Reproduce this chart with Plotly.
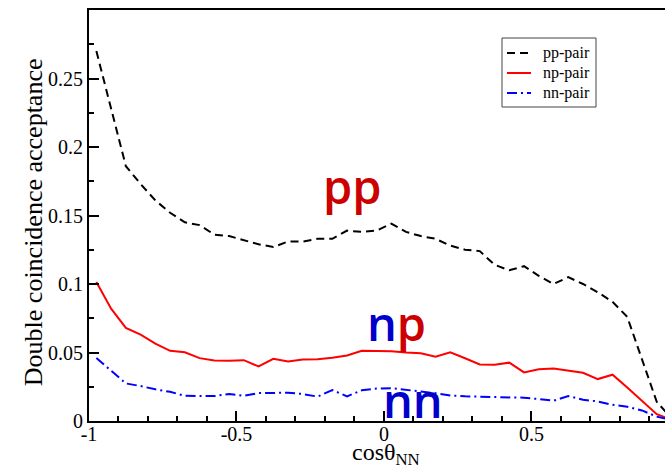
import plotly.graph_objects as go

cos_theta = [-0.975, -0.925, -0.875, -0.825, -0.775, -0.725, -0.675, -0.625, -0.575, -0.525,
             -0.475, -0.425, -0.375, -0.325, -0.275, -0.225, -0.175, -0.125, -0.075, -0.025,
             0.025, 0.075, 0.125, 0.175, 0.225, 0.275, 0.325, 0.375, 0.425, 0.475,
             0.525, 0.575, 0.625, 0.675, 0.725, 0.775, 0.825, 0.875, 0.925, 0.975]

pp_pair = [0.270, 0.228, 0.186, 0.173, 0.161, 0.152, 0.145, 0.143, 0.136, 0.135,
           0.132, 0.129, 0.127, 0.131, 0.131, 0.133, 0.133, 0.139, 0.138, 0.139,
           0.144, 0.138, 0.135, 0.133, 0.128, 0.125, 0.124, 0.114, 0.110, 0.113,
           0.106, 0.100, 0.105, 0.100, 0.094, 0.087, 0.076, 0.045, 0.014, 0.002]

np_pair = [0.1014, 0.0820, 0.0679, 0.0631, 0.0565, 0.0512, 0.0502, 0.0459, 0.0442, 0.0439,
           0.0444, 0.0398, 0.0454, 0.0434, 0.0449, 0.0451, 0.0461, 0.0478, 0.0512, 0.0512,
           0.0510, 0.0500, 0.0495, 0.0470, 0.0502, 0.0458, 0.0413, 0.0410, 0.0426, 0.0355,
           0.0378, 0.0383, 0.0368, 0.0352, 0.0306, 0.0338, 0.0245, 0.0145, 0.0050, 0.0010]

nn_pair = [0.0460, 0.0370, 0.0274, 0.0255, 0.0231, 0.0213, 0.0184, 0.0182, 0.0182, 0.0197,
           0.0184, 0.0204, 0.0206, 0.0206, 0.0197, 0.0178, 0.0226, 0.0180, 0.0224, 0.0237,
           0.0240, 0.0225, 0.0215, 0.0203, 0.0186, 0.0180, 0.0178, 0.0175, 0.0172, 0.0170,
           0.0160, 0.0148, 0.0182, 0.0155, 0.0143, 0.0118, 0.0104, 0.0077, 0.0032, 0.0008]

series_names = ["pp-pair", "np-pair", "nn-pair"]

x_tick_vals = [-1, -0.5, 0, 0.5]
x_tick_text = ["-1", "-0.5", "0", "0.5"]
y_tick_vals = [0, 0.05, 0.1, 0.15, 0.2, 0.25]
y_tick_text = ["0", "0.05", "0.1", "0.15", "0.2", "0.25"]

serif = "Liberation Serif"
sans = "Open Sans"

styles = [
    dict(color="black", width=2, dash="8px,5px"),
    dict(color="#ff0000", width=2),
    dict(color="#0000ff", width=2, dash="10px,4px,2px,4px"),
]

fig = go.Figure()
for name, ys, st in zip(series_names, [pp_pair, np_pair, nn_pair], styles):
    fig.add_trace(go.Scatter(x=cos_theta, y=ys, mode="lines", name=name, line=st,
                             showlegend=False))

axis_common = dict(showgrid=False, zeroline=False, showline=True, linecolor="black",
                   linewidth=2, ticks="inside", ticklen=10, tickwidth=2, tickcolor="black",
                   automargin=False,
                   tickfont=dict(family=serif, size=20, color="black"))

fig.update_xaxes(range=[-1, 0.953], tickvals=x_tick_vals, ticktext=x_tick_text,
                 mirror=True, ticklabelstandoff=-6,
                 minor=dict(ticks="inside", ticklen=5, tickwidth=2, tickcolor="black",
                            dtick=0.1, tick0=-1),
                 **axis_common)
fig.update_yaxes(range=[0, 0.3], tickvals=y_tick_vals, ticktext=y_tick_text,
                 minor=dict(ticks="inside", ticklen=5, tickwidth=2, tickcolor="black",
                            dtick=0.025, tick0=0),
                 **axis_common)

# axis titles
fig.add_annotation(xref="paper", yref="paper", x=0.516, y=-0.08,
                   xanchor="center", yanchor="middle",
                   text="cosθ<sub>NN</sub>", showarrow=False,
                   font=dict(family=serif, size=24, color="black"))
fig.add_annotation(xref="paper", yref="paper", x=-0.097, y=0.484, textangle=-90,
                   xanchor="center", yanchor="middle",
                   text="Double coincidence acceptance", showarrow=False,
                   font=dict(family=serif, size=26, color="black"))

# in-plot labels
fig.add_annotation(x=-0.105, y=0.1715, text="pp", showarrow=False,
                   font=dict(family=sans, size=47, color="#cc0000", weight=600))
fig.add_annotation(x=0.044, y=0.0715,
                   text="<span style='color:#0000cc'>n</span><span style='color:#cc0000'>p</span>",
                   showarrow=False, font=dict(family=sans, size=47, weight=600))
fig.add_annotation(x=0.098, y=0.0153, text="nn", showarrow=False,
                   font=dict(family=sans, size=47, color="#0000cc", weight=600))

# legend box (paper coords: plot spans x 89..665 px, y 10..421 px)
def px_x(p):
    return (p - 89) / 576.0

def px_y(p):
    return (421 - p) / 411.0

fig.add_shape(type="rect", xref="paper", yref="paper",
              x0=px_x(502), x1=px_x(596), y0=px_y(107), y1=px_y(38),
              line=dict(color="#444", width=1), fillcolor="white")
for i, (name, st) in enumerate(zip(series_names, styles)):
    yy = px_y(53 + 20 * i)
    fig.add_shape(type="line", xref="paper", yref="paper",
                  x0=px_x(507), x1=px_x(531), y0=yy, y1=yy, line=st)
    fig.add_annotation(xref="paper", yref="paper", x=px_x(541), y=yy, xanchor="left",
                       yanchor="middle", text=name, showarrow=False,
                       font=dict(family=serif, size=16, color="black"))

fig.update_layout(
    width=665, height=467,
    margin=dict(l=89, r=0, t=10, b=46),
    paper_bgcolor="white", plot_bgcolor="white",
    showlegend=False,
)

fig.write_html("out.html")
